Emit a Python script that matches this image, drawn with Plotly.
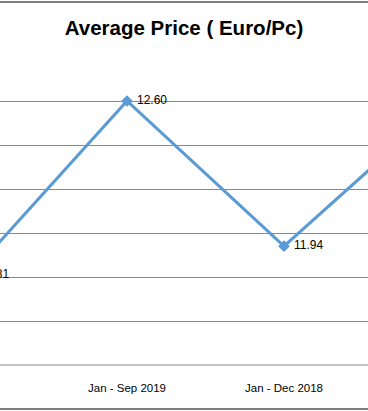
import plotly.graph_objects as go

categories = ["Jan - Sep 2018", "Jan - Sep 2019", "Jan - Dec 2018", "Jan - Dec 2019"]
avg_price = [11.81, 12.60, 11.94, 12.58]
labels = ["\u00a0" + f"{v:.2f}" for v in avg_price]
y_ticks = [11.4, 11.6, 11.8, 12.0, 12.2, 12.4, 12.6, 12.8]

W, H = 368, 411
top, bottom = 57, 46
plot_h = H - top - bottom

fig = go.Figure()
fig.add_trace(go.Scatter(
    x=list(range(len(categories))), y=avg_price,
    mode="lines+markers+text",
    line=dict(color="#5B9BD5", width=3),
    marker=dict(symbol="diamond", size=9, color="#5B9BD5"),
    text=labels, textposition="middle right",
    textfont=dict(family="Liberation Sans, Arial, sans-serif", size=12, color="#000000"),
    cliponaxis=True,
    hoverinfo="skip",
))

fig.update_layout(
    width=W, height=H,
    margin=dict(l=0, r=0, t=top, b=bottom, pad=0),
    paper_bgcolor="white", plot_bgcolor="white",
    showlegend=False,
    title=dict(text="<b>Average Price ( Euro/Pc)</b>", x=0.5, xanchor="center",
               y=1 - 28 / H, yanchor="middle",
               font=dict(family="Liberation Sans, Arial, sans-serif", size=20.5, color="#000000")),
    xaxis=dict(
        range=[1 - 127 / 157, 2 + (W - 284) / 157],
        tickmode="array", tickvals=list(range(len(categories))), ticktext=categories,
        showgrid=False, zeroline=False, showline=False, ticks="",
        tickfont=dict(family="Liberation Sans, Arial, sans-serif", size=11.5, color="#000000"),
        ticklabelstandoff=14,
    ),
    yaxis=dict(
        range=[11.4, 12.8],
        tickvals=y_ticks, showticklabels=False,
        showgrid=True, gridcolor="#888888", gridwidth=1,
        zeroline=False, showline=False, ticks="",
    ),
)

# chart-area border lines (top and bottom of outer frame)
for py in (2, 409):
    yp = (H - bottom - py) / plot_h
    fig.add_shape(type="line", xref="paper", yref="paper", x0=0, x1=1, y0=yp, y1=yp,
                  line=dict(color="#7f7f7f", width=2))
fig.add_shape(type="line", xref="paper", yref="paper", x0=0, x1=1, y0=0, y1=0,
              line=dict(color="#888888", width=1))

fig.write_html("out.html", config={"displayModeBar": False},
               post_script="document.body.style.margin='0';document.body.style.overflow='hidden';")
